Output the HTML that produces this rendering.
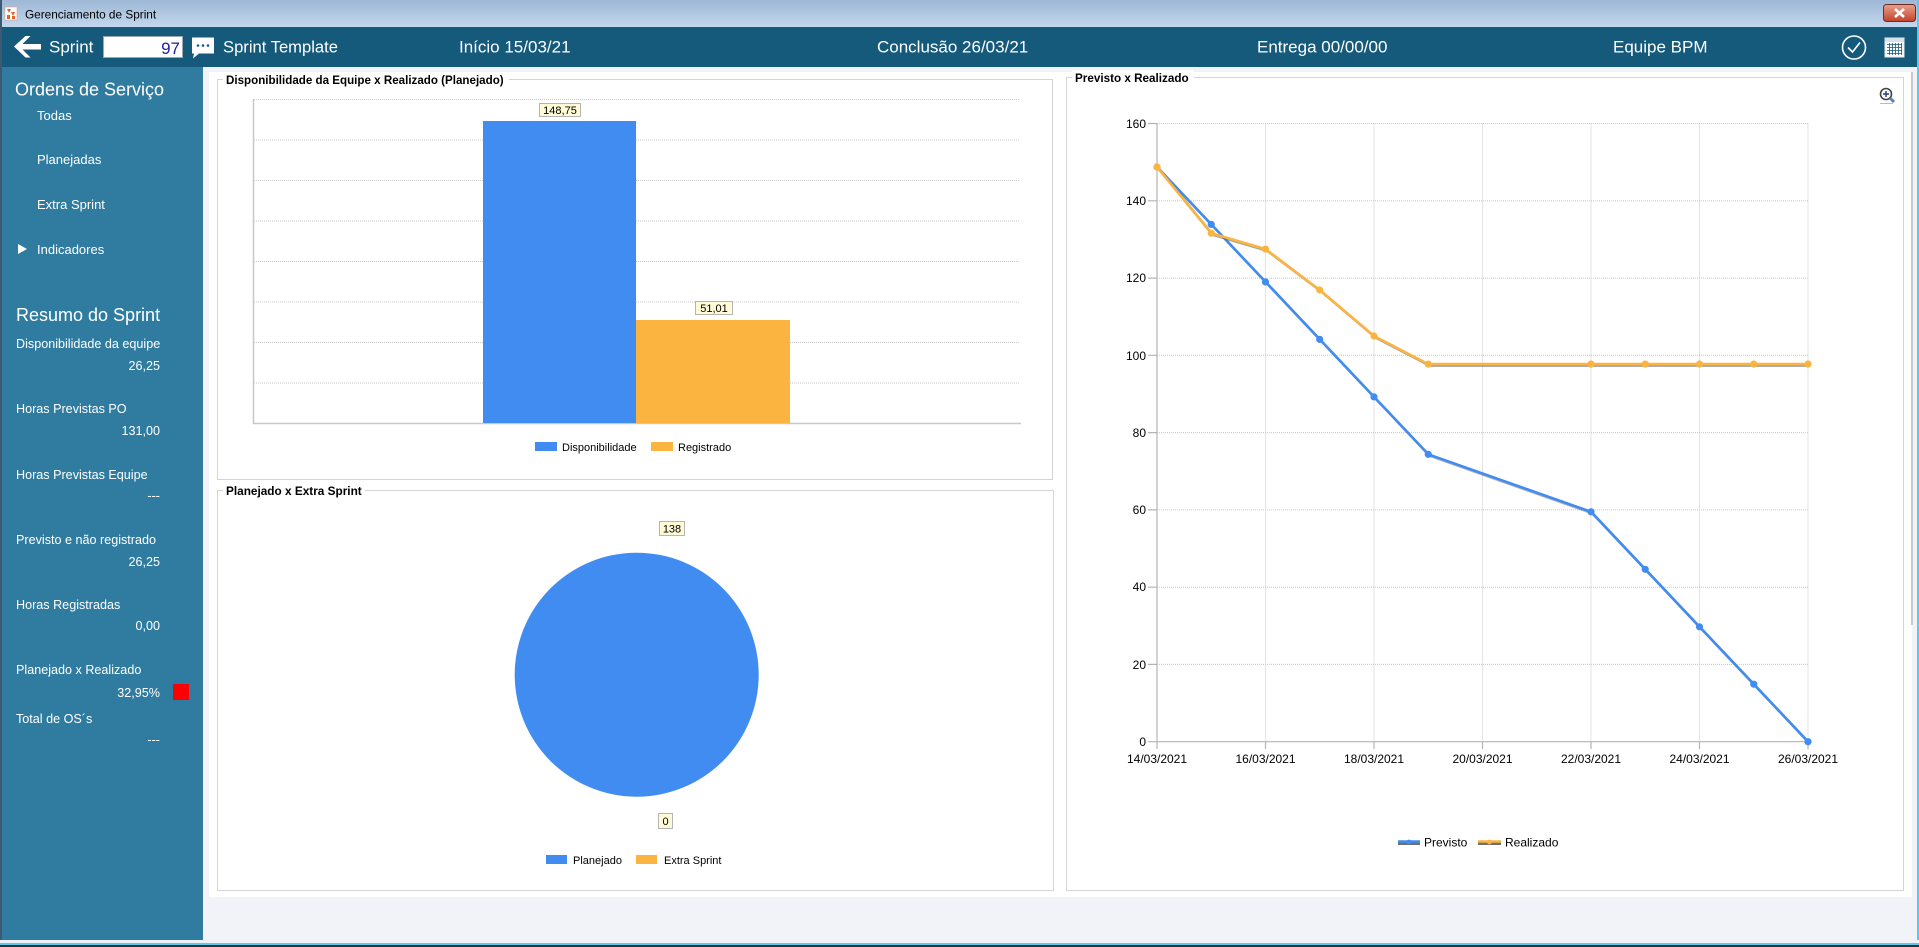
<!DOCTYPE html>
<html><head><meta charset="utf-8"><style>
html,body{margin:0;padding:0;background:#f2f3f8;}
svg{display:block;}
text{font-family:"Liberation Sans",sans-serif;}
</style></head><body>
<svg width="1919" height="947" viewBox="0 0 1919 947" xmlns="http://www.w3.org/2000/svg">
<defs>
<linearGradient id="tb" x1="0" y1="0" x2="0" y2="1"><stop offset="0" stop-color="#9db7d5"/><stop offset="1" stop-color="#c3d7ee"/></linearGradient>
<linearGradient id="cb" x1="0" y1="0" x2="0" y2="1"><stop offset="0" stop-color="#e8a08c"/><stop offset="1" stop-color="#c2432b"/></linearGradient>
</defs>
<!-- window frame -->
<rect x="0" y="0" width="1919" height="947" fill="#f2f3f8"/>
<rect x="0" y="0" width="1919" height="27" fill="url(#tb)"/>
<rect x="0" y="0" width="2" height="947" fill="#3d5a72"/>
<rect x="1917" y="0" width="2" height="947" fill="#5ec8ea"/>
<!-- title icon -->
<rect x="5" y="7" width="12" height="13" fill="#fff" stroke="#e0a080" stroke-width="0.6"/>
<path d="M7 9 L11 9 L9 13 Z M11 12 L15 12 L13 16 Z M7 15 L10 15 L10 19 L7 19 Z M12 16 L15 16 L15 19 L12 19 Z" fill="#e8602a"/>
<text x="25" y="18.5" font-size="11.8" fill="#000">Gerenciamento de Sprint</text>
<!-- close btn -->
<rect x="1883.5" y="4.5" width="32" height="17" rx="3" fill="url(#cb)" stroke="#6d2b22"/>
<path d="M1895 9 L1904 17 M1904 9 L1895 17" stroke="#fff" stroke-width="2.6"/>
<!-- header -->
<rect x="2" y="27" width="1915" height="40" fill="#155a7b"/>
<path d="M14 46.5 L25.5 36 L30.5 36 L22.5 44 L41 44 L41 49.5 L22.5 49.5 L30.5 57.5 L25.5 57.5 Z" fill="#fff"/>
<text x="49" y="52.5" font-size="17" fill="#fff">Sprint</text>
<rect x="103.5" y="36.5" width="79" height="21" fill="#fff" stroke="#9aa8b4"/>
<text x="180" y="54" font-size="17" fill="#1c1ca8" text-anchor="end">97</text>
<path d="M192 37.5 L214 37.5 L214 53.5 L199 53.5 L193 58.5 L194 53.5 L192 53.5 Z" fill="#fff"/>
<circle cx="198" cy="45.5" r="1.3" fill="#155a7b"/><circle cx="203" cy="45.5" r="1.3" fill="#155a7b"/><circle cx="208" cy="45.5" r="1.3" fill="#155a7b"/>
<text x="223" y="52.5" font-size="16.6" fill="#fff">Sprint Template</text>
<text x="459" y="52.5" font-size="17" fill="#fff">Início  15/03/21</text>
<text x="877" y="52.5" font-size="17" fill="#fff">Conclusão  26/03/21</text>
<text x="1257" y="52.5" font-size="17" fill="#fff">Entrega 00/00/00</text>
<text x="1613" y="52.5" font-size="17" fill="#fff">Equipe BPM</text>
<circle cx="1854" cy="47.5" r="11.5" fill="none" stroke="#fff" stroke-width="1.6"/>
<path d="M1848 47.5 L1852.5 52 L1860 42.5" fill="none" stroke="#fff" stroke-width="1.6"/>
<rect x="1885" y="38" width="19" height="19" fill="#fff" stroke="#dfe8ee"/>
<rect x="1885" y="38" width="19" height="4" fill="#d8e2ea"/>
<g stroke="#155a7b" stroke-width="0.8">
<path d="M1887 44.5 H1902 M1887 47.5 H1902 M1887 50.5 H1902 M1887 53.5 H1902 M1889.5 43 V55 M1892.5 43 V55 M1895.5 43 V55 M1898.5 43 V55 M1901.5 43 V55"/>
</g>
<!-- sidebar -->
<rect x="2" y="67" width="201" height="873" fill="#2f7ca0"/>
<g fill="#fff">
<text x="15" y="95.5" font-size="18">Ordens de Serviço</text>
<text x="37" y="120" font-size="13">Todas</text>
<text x="37" y="164" font-size="13">Planejadas</text>
<text x="37" y="209" font-size="13">Extra Sprint</text>
<path d="M18 244 L27 249 L18 254 Z"/>
<text x="37" y="254" font-size="13">Indicadores</text>
<text x="16" y="321" font-size="18">Resumo do Sprint</text>
<text x="16" y="348" font-size="12.6">Disponibilidade da equipe</text>
<text x="160" y="370" font-size="12.6" text-anchor="end">26,25</text>
<text x="16" y="413" font-size="12.6">Horas Previstas PO</text>
<text x="160" y="435" font-size="12.6" text-anchor="end">131,00</text>
<text x="16" y="479" font-size="12.6">Horas Previstas Equipe</text>
<text x="160" y="500" font-size="12.6" text-anchor="end">---</text>
<text x="16" y="544" font-size="12.6">Previsto e não registrado</text>
<text x="160" y="566" font-size="12.6" text-anchor="end">26,25</text>
<text x="16" y="609" font-size="12.6">Horas Registradas</text>
<text x="160" y="630" font-size="12.6" text-anchor="end">0,00</text>
<text x="16" y="674" font-size="12.6">Planejado x Realizado</text>
<text x="160" y="697" font-size="12.6" text-anchor="end">32,95%</text>
<text x="16" y="723" font-size="12.6">Total de OS´s</text>
<text x="160" y="744" font-size="12.6" text-anchor="end">---</text>
</g>
<rect x="173" y="684" width="16" height="16" fill="#ff0000"/>
<!-- bottom border -->
<rect x="0" y="940" width="1919" height="3" fill="#eef2f8"/>
<rect x="0" y="943" width="1919" height="2" fill="#5ec8ea"/>
<rect x="0" y="945" width="1919" height="2" fill="#23343f"/>
<!-- content white -->
<rect x="209" y="72" width="1703" height="825" fill="#fff"/>
<rect x="1911" y="72" width="2" height="553" fill="#c8c8c8"/>

<!-- Panel 1: bar chart -->
<rect x="217.5" y="79.5" width="835" height="400" fill="none" stroke="#d4d4d4"/>
<rect x="223" y="72" width="286" height="16" fill="#fff"/>
<text x="226" y="84" font-size="11.6" font-weight="bold" fill="#000">Disponibilidade da Equipe x Realizado (Planejado)</text>
<g stroke="#c8c8c8" stroke-width="1" stroke-dasharray="1 1">
<path d="M254 99.5 H1020 M254 140 H1020 M254 180.5 H1020 M254 221 H1020 M254 261.5 H1020 M254 302 H1020 M254 342.5 H1020 M254 383 H1020"/>
</g>
<path d="M253.5 99 V423.5 H1021" fill="none" stroke="#c8c8c8" stroke-width="1.5"/>
<rect x="483" y="121" width="153" height="302" fill="#418cf0"/>
<rect x="636" y="320" width="154" height="103" fill="#fcb441"/>
<rect x="539.5" y="103.5" width="41" height="13" fill="#fffbd6" stroke="#b4b4b4"/>
<text x="560" y="114" font-size="11" text-anchor="middle" fill="#000">148,75</text>
<rect x="695.5" y="301.5" width="37" height="13" fill="#fffbd6" stroke="#b4b4b4"/>
<text x="714" y="312" font-size="11" text-anchor="middle" fill="#000">51,01</text>
<rect x="535" y="442" width="22" height="9" fill="#418cf0"/>
<text x="562" y="451" font-size="11" fill="#000">Disponibilidade</text>
<rect x="651" y="442" width="22" height="9" fill="#fcb441"/>
<text x="678" y="451" font-size="11" fill="#000">Registrado</text>

<!-- Panel 2: pie -->
<rect x="217.5" y="490.5" width="836" height="400" fill="none" stroke="#d4d4d4"/>
<rect x="223" y="483" width="142" height="16" fill="#fff"/>
<text x="226" y="495" font-size="11.8" font-weight="bold" fill="#000">Planejado x Extra Sprint</text>
<circle cx="636.7" cy="674.7" r="122" fill="#418cf0"/>
<rect x="659.5" y="521.5" width="25" height="14" fill="#fffbd6" stroke="#b4b4b4"/>
<text x="672" y="532.5" font-size="11" text-anchor="middle" fill="#000">138</text>
<rect x="658.5" y="813.5" width="14" height="15" fill="#fffbd6" stroke="#b4b4b4"/>
<text x="665.5" y="825" font-size="11" text-anchor="middle" fill="#000">0</text>
<rect x="546" y="855" width="21" height="9" fill="#418cf0"/>
<text x="573" y="864" font-size="11" fill="#000">Planejado</text>
<rect x="636" y="855" width="21" height="9" fill="#fcb441"/>
<text x="664" y="864" font-size="11" fill="#000">Extra Sprint</text>

<!-- Panel 3: line chart -->
<rect x="1066.5" y="77.5" width="837" height="813" fill="none" stroke="#d4d4d4"/>
<rect x="1072" y="70" width="122" height="16" fill="#fff"/>
<text x="1075" y="82" font-size="11.7" font-weight="bold" fill="#000">Previsto x Realizado</text>
<!-- zoom icon -->
<circle cx="1886" cy="94" r="5.5" fill="#fff" stroke="#444" stroke-width="1.6"/>
<path d="M1883 94 H1889 M1886 91 V97" stroke="#1c3f7a" stroke-width="1.4"/>
<path d="M1890 98 L1894 102" stroke="#5a7fc0" stroke-width="3"/>
<path d="M1880 103.5 H1893" stroke="#bbb" stroke-width="1"/>
<g stroke="#c8c8c8" stroke-width="1" stroke-dasharray="1 1" fill="none">
<path d="M1157 123.5 H1808 M1157 200.8 H1808 M1157 278.1 H1808 M1157 355.3 H1808 M1157 432.6 H1808 M1157 509.9 H1808 M1157 587.2 H1808 M1157 664.4 H1808"/>
<path d="M1265.5 123.5 V741 M1374 123.5 V741 M1482.5 123.5 V741 M1591 123.5 V741 M1699.5 123.5 V741 M1808 123.5 V741"/>
</g>
<g stroke="#b4b4b4" stroke-width="1.2" fill="none">
<path d="M1157 123 V741.7 H1808"/>
<path d="M1148 123.5 H1157 M1148 200.8 H1157 M1148 278.1 H1157 M1148 355.3 H1157 M1148 432.6 H1157 M1148 509.9 H1157 M1148 587.2 H1157 M1148 664.4 H1157 M1148 741.7 H1157"/>
<path d="M1157 741.7 V749 M1265.5 741.7 V749 M1374 741.7 V749 M1482.5 741.7 V749 M1591 741.7 V749 M1699.5 741.7 V749 M1808 741.7 V749"/>
</g>
<g font-size="12" fill="#000" text-anchor="end">
<text x="1146" y="128">160</text><text x="1146" y="205">140</text><text x="1146" y="282">120</text><text x="1146" y="360">100</text>
<text x="1146" y="437">80</text><text x="1146" y="514">60</text><text x="1146" y="591">40</text><text x="1146" y="669">20</text><text x="1146" y="746">0</text>
</g>
<g font-size="12" fill="#000" text-anchor="middle">
<text x="1157" y="763">14/03/2021</text><text x="1265.5" y="763">16/03/2021</text><text x="1374" y="763">18/03/2021</text>
<text x="1482.5" y="763">20/03/2021</text><text x="1591" y="763">22/03/2021</text><text x="1699.5" y="763">24/03/2021</text><text x="1808" y="763">26/03/2021</text>
</g>
<!-- Previsto -->
<g transform="translate(1.5,1.5)" opacity="0.45">
<polyline points="1157,167 1211.25,224.4 1265.5,281.9 1319.75,339.4 1374,396.9 1428.25,454.3 1591,511.8 1645.25,569.3 1699.5,626.8 1753.75,684.2 1808,741.7" fill="none" stroke="#555" stroke-width="2.6"/>
</g>
<polyline points="1157,167 1211.25,224.4 1265.5,281.9 1319.75,339.4 1374,396.9 1428.25,454.3 1591,511.8 1645.25,569.3 1699.5,626.8 1753.75,684.2 1808,741.7" fill="none" stroke="#418cf0" stroke-width="2.6"/>
<g fill="#418cf0">
<circle cx="1157" cy="167" r="3.6"/><circle cx="1211.25" cy="224.4" r="3.6"/><circle cx="1265.5" cy="281.9" r="3.6"/><circle cx="1319.75" cy="339.4" r="3.6"/><circle cx="1374" cy="396.9" r="3.6"/><circle cx="1428.25" cy="454.3" r="3.6"/><circle cx="1591" cy="511.8" r="3.6"/><circle cx="1645.25" cy="569.3" r="3.6"/><circle cx="1699.5" cy="626.8" r="3.6"/><circle cx="1753.75" cy="684.2" r="3.6"/><circle cx="1808" cy="741.7" r="3.6"/>
</g>
<!-- Realizado -->
<g transform="translate(1.5,1.5)" opacity="0.55">
<polyline points="1157,167 1211.25,233.2 1265.5,249.1 1319.75,290 1374,336 1428.25,364.1 1591,364.1 1645.25,364.1 1699.5,364.1 1753.75,364.1 1808,364.1" fill="none" stroke="#555" stroke-width="2.6"/>
</g>
<polyline points="1157,167 1211.25,233.2 1265.5,249.1 1319.75,290 1374,336 1428.25,364.1 1591,364.1 1645.25,364.1 1699.5,364.1 1753.75,364.1 1808,364.1" fill="none" stroke="#fcb441" stroke-width="2.6"/>
<g fill="#fcb441">
<circle cx="1157" cy="167" r="3.6"/><circle cx="1211.25" cy="233.2" r="3.6"/><circle cx="1265.5" cy="249.1" r="3.6"/><circle cx="1319.75" cy="290" r="3.6"/><circle cx="1374" cy="336" r="3.6"/><circle cx="1428.25" cy="364.1" r="3.6"/><circle cx="1591" cy="364.1" r="3.6"/><circle cx="1645.25" cy="364.1" r="3.6"/><circle cx="1699.5" cy="364.1" r="3.6"/><circle cx="1753.75" cy="364.1" r="3.6"/><circle cx="1808" cy="364.1" r="3.6"/>
</g>
<!-- line legend -->
<path d="M1398 843.5 H1420" stroke="#707070" stroke-width="3"/>
<path d="M1398 841.5 H1420" stroke="#418cf0" stroke-width="2.5"/>
<circle cx="1409" cy="842" r="2.4" fill="#418cf0"/>
<text x="1424" y="846.5" font-size="12" fill="#000">Previsto</text>
<path d="M1478 843.5 H1501" stroke="#707070" stroke-width="3"/>
<path d="M1478 841.5 H1501" stroke="#fcb441" stroke-width="2.5"/>
<circle cx="1489.5" cy="842" r="2.4" fill="#fcb441"/>
<text x="1505" y="846.5" font-size="12" fill="#000">Realizado</text>
</svg>
</body></html>
